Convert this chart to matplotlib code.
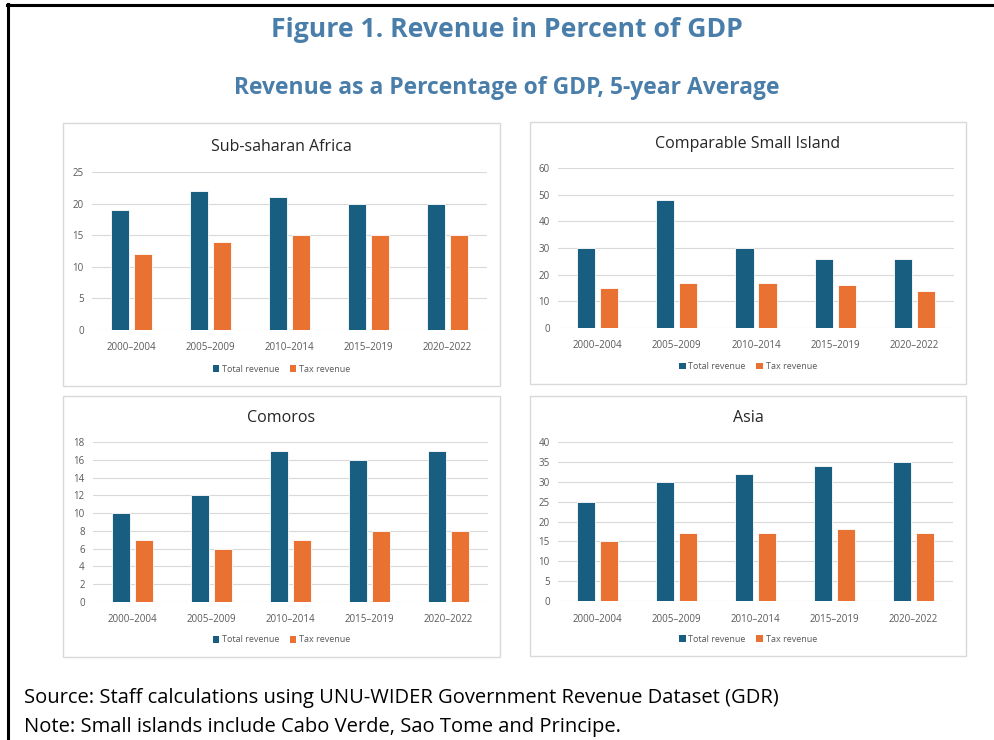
import matplotlib
matplotlib.use("Agg")
import matplotlib.pyplot as plt
from matplotlib.patches import Rectangle, Patch
from matplotlib.lines import Line2D
import numpy as np

plt.rcParams['font.family'] = ['Open Sans', 'DejaVu Sans']

periods = ["2000\u20132004", "2005\u20132009", "2010\u20132014", "2015\u20132019", "2020\u20132022"]

ssa_total = [19, 22, 21, 20, 20]
ssa_tax = [12, 14, 15, 15, 15]

small_island_total = [30, 48, 30, 26, 26]
small_island_tax = [15, 17, 17, 16, 14]

comoros_total = [10, 12, 17, 16, 17]
comoros_tax = [7, 6, 7, 8, 8]

asia_total = [25, 30, 32, 34, 35]
asia_tax = [15, 17, 17, 18, 17]

panel_titles = ["Sub-saharan Africa", "Comparable Small Island", "Comoros", "Asia"]
panel_totals = [ssa_total, small_island_total, comoros_total, asia_total]
panel_taxes = [ssa_tax, small_island_tax, comoros_tax, asia_tax]
panel_ylims = [(25, 5), (60, 10), (18, 2), (40, 5)]

series_names = ["Total revenue", "Tax revenue"]
colors = ["#175E80", "#E97132"]

W, H = 995, 740
fig = plt.figure(figsize=(W / 100, H / 100), dpi=100)


def fx(px):
    return px / W


def fy(py):
    return 1 - py / H


# outer frame (left and top edges)
fig.add_artist(Line2D([fx(8), fx(8)], [fy(4), fy(740)], color="black", lw=2.2,
                      transform=fig.transFigure))
fig.add_artist(Line2D([fx(7), fx(995)], [fy(5), fy(5)], color="black", lw=2.2,
                      transform=fig.transFigure))

fig.text(fx(507), fy(30), "Figure 1. Revenue in Percent of GDP", ha="center", va="center",
         fontsize=19.2, fontweight="bold", color="#4A7EAA")
fig.text(fx(507), fy(88), "Revenue as a Percentage of GDP, 5-year Average", ha="center",
         va="center", fontsize=16.5, fontweight="bold", color="#4A7EAA")

# (box left, box top, box right, box bottom, axes left, axes top, axes right, axes bottom, title y)
layouts = [
    (63, 123, 500, 386, 92, 172, 487, 330, 147),
    (530, 122, 966, 384, 558, 168, 954, 328, 144),
    (63, 396, 500, 657, 93, 442, 488, 602, 418),
    (530, 396, 966, 656, 558, 442, 953, 601, 418),
]

x = np.arange(len(periods))
bw = 0.23
off = 0.145

for i, (bl, bt, br, bb, al, at, ar, ab, ty) in enumerate(layouts):
    fig.add_artist(Rectangle((fx(bl), fy(bb)), fx(br) - fx(bl), fy(bt) - fy(bb),
                             transform=fig.transFigure, fill=False,
                             edgecolor="#D9D9D9", lw=1.0))
    ax = fig.add_axes([fx(al), fy(ab), fx(ar) - fx(al), fy(at) - fy(ab)])
    ymax, step = panel_ylims[i]
    ax.bar(x - off, panel_totals[i], bw, color=colors[0], edgecolor="white", lw=0.6, zorder=3)
    ax.bar(x + off, panel_taxes[i], bw, color=colors[1], edgecolor="white", lw=0.6, zorder=3)
    ax.set_xlim(-0.5, len(periods) - 0.5)
    ax.set_ylim(0, ymax)
    ax.set_yticks(np.arange(0, ymax + step / 2, step))
    ax.set_xticks(x)
    ax.set_xticklabels(periods)
    ax.tick_params(axis="both", length=0, labelsize=7, labelcolor="#595959")
    ax.tick_params(axis="x", pad=9)
    ax.tick_params(axis="y", pad=6)
    ax.grid(axis="y", color="#D9D9D9", lw=0.8, zorder=0)
    for s in ax.spines.values():
        s.set_visible(False)
    ax.set_facecolor("none")
    fig.text((fx(bl) + fx(br)) / 2, fy(ty), panel_titles[i], ha="center", va="center",
             fontsize=11.5, color="#262626")
    handles = [Patch(facecolor=c, edgecolor="none") for c in colors]
    fig.legend(handles, series_names, loc="center",
               bbox_to_anchor=((fx(bl) + fx(br)) / 2, fy(bb - 17)),
               ncol=2, frameon=False, fontsize=6.5, handlelength=0.7, handleheight=0.7,
               handletextpad=0.3, columnspacing=1.2, labelcolor="#595959")

fig.text(fx(24), fy(698), "Source: Staff calculations using UNU-WIDER Government Revenue Dataset (GDR)",
         ha="left", va="center", fontsize=14.5, color="black")
fig.text(fx(24), fy(727), "Note: Small islands include Cabo Verde, Sao Tome and Principe.",
         ha="left", va="center", fontsize=14.5, color="black")

fig.savefig("out.png", dpi=100)
